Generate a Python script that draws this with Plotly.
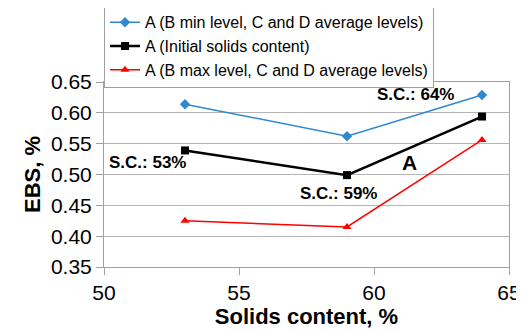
import plotly.graph_objects as go

solids = [53, 59, 64]
ebs_b_min = [0.614, 0.562, 0.629]
ebs_initial = [0.539, 0.499, 0.594]
ebs_b_max = [0.425, 0.415, 0.556]

names = [
    "A (B min level, C and D average levels)",
    "A (Initial solids content)",
    "A (B max level, C and D average levels)",
]

labels = ["S.C.: 53%", "S.C.: 59%", "S.C.: 64%", "A"]
label_x = [51.6, 58.7, 61.55, 61.3]
label_y = [0.519, 0.470, 0.629, 0.519]
label_size = [17, 17, 17, 21]

fig = go.Figure()
fig.add_trace(go.Scatter(x=solids, y=ebs_b_min, name=names[0], mode="lines+markers",
                         line=dict(color="#2f88d0", width=1.5),
                         marker=dict(symbol="diamond", size=8, color="#2f88d0")))
fig.add_trace(go.Scatter(x=solids, y=ebs_initial, name=names[1], mode="lines+markers",
                         line=dict(color="black", width=2.5),
                         marker=dict(symbol="square", size=8, color="black")))
fig.add_trace(go.Scatter(x=solids, y=ebs_b_max, name=names[2], mode="lines+markers",
                         line=dict(color="red", width=1.5),
                         marker=dict(symbol="triangle-up", size=8, color="red")))

for t, x, y, s in zip(labels, label_x, label_y, label_size):
    fig.add_annotation(x=x, y=y, text="<b>%s</b>" % t, showarrow=False,
                       font=dict(size=s, color="black"))

# page body has an 8px margin, so the figure is a bit smaller than the window
fig.update_layout(
    width=516, height=323,
    margin=dict(l=96, r=15, t=74, b=64, autoexpand=False),
    paper_bgcolor="white", plot_bgcolor="white",
    font=dict(family="Liberation Sans, Arial, sans-serif", color="black"),
    legend=dict(x=0.0, y=1.42, xanchor="left", yanchor="top",
                bordercolor="#a0a0a0", borderwidth=1,
                font=dict(size=16), itemwidth=30, tracegroupgap=0),
    xaxis=dict(range=[50, 65], dtick=5, showgrid=False, automargin=False,
               showline=True, linecolor="#a0a0a0", mirror=True,
               ticks="outside", ticklen=7, tickcolor="#a0a0a0",
               tickfont=dict(size=21),
               title=dict(text="<b>Solids content, %</b>", font=dict(size=22), standoff=0)),
    yaxis=dict(range=[0.35, 0.65], dtick=0.05, tickformat=".2f", automargin=False,
               showgrid=True, gridcolor="#b4b4b4",
               showline=True, linecolor="#a0a0a0", mirror=True,
               ticks="outside", ticklen=7, tickcolor="#a0a0a0",
               tickfont=dict(size=21), zeroline=False,
               title=dict(text="<b>EBS, %</b>", font=dict(size=22), standoff=4)),
)

fig.write_html("out.html")
